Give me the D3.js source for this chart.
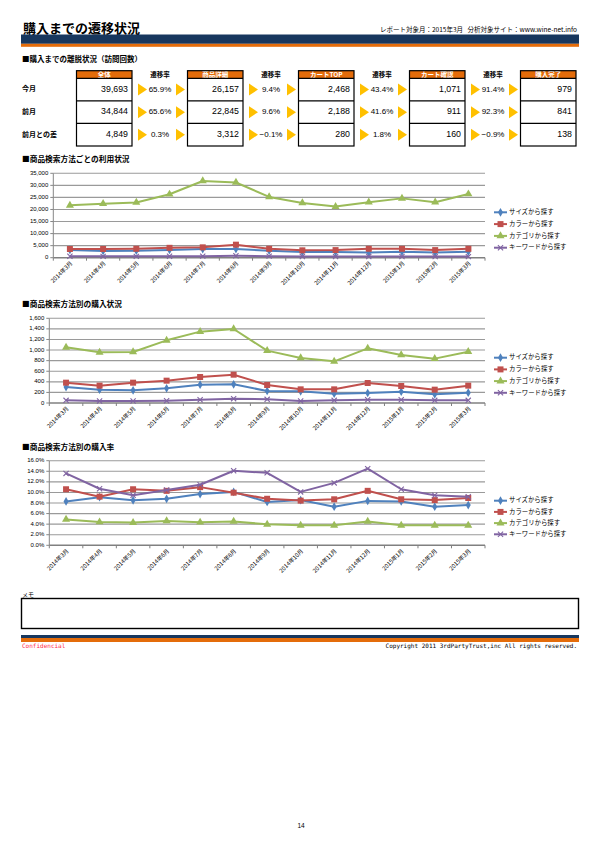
<!DOCTYPE html>
<html>
<head>
<meta charset="utf-8">
<script src="https://cdn.jsdelivr.net/npm/d3@7"></script>
<style>
  body { margin: 0; background: #fff; }
</style>
</head>
<body>
<script>
// Page size
const width = 601;
const height = 848;

// Funnel table data
const stages = ["全体", "商品詳細", "カートTOP", "カート確認", "購入完了"];
const rowLabels = ["今月", "前月", "前月との差"];
const visitsThisMonth = [39693, 26157, 2468, 1071, 979];
const visitsLastMonth = [34844, 22845, 2188, 911, 841];
const visitsDiff = [4849, 3312, 280, 160, 138];
const rateThisMonth = [65.9, 9.4, 43.4, 91.4];
const rateLastMonth = [65.6, 9.6, 41.6, 92.3];
const rateDiff = [0.3, -0.1, 1.8, -0.9];

// Chart data
const months = ["2014年3月", "2014年4月", "2014年5月", "2014年6月", "2014年7月", "2014年8月",
  "2014年9月", "2014年10月", "2014年11月", "2014年12月", "2015年1月", "2015年2月", "2015年3月"];
const seriesNames = ["サイズから探す", "カラーから探す", "カテゴリから探す", "キーワードから探す"];

// 利用状況 (visits per search method)
const useSize = [3200, 2800, 2900, 3200, 3600, 3600, 2900, 2400, 2350, 2200, 2500, 2200, 2500];
const useColor = [3600, 3600, 3700, 4100, 4300, 5400, 3700, 3050, 3150, 3700, 3700, 3150, 3700];
const useCategory = [21700, 22400, 22900, 26300, 31800, 31200, 25200, 22700, 21200, 23000, 24600, 23000, 26400];
const useKeyword = [600, 550, 550, 600, 650, 800, 650, 500, 450, 500, 500, 450, 450];

// 購入状況 (purchases per search method)
const buySize = [302, 252, 239, 277, 346, 353, 227, 220, 176, 189, 214, 164, 195];
const buyColor = [384, 328, 384, 422, 491, 535, 340, 258, 258, 378, 321, 252, 328];
const buyCategory = [1052, 957, 964, 1184, 1348, 1398, 989, 850, 787, 1033, 907, 838, 970];
const buyKeyword = [50, 38, 38, 44, 63, 82, 69, 38, 50, 63, 63, 50, 50];

// 購入率 (conversion rate, %)
const cvrSize = [8.3, 9.1, 8.5, 8.8, 9.7, 10.1, 8.2, 8.55, 7.3, 8.4, 8.3, 7.3, 7.6];
const cvrColor = [10.6, 9.2, 10.6, 10.3, 11.0, 9.95, 8.8, 8.45, 8.7, 10.3, 8.7, 8.55, 8.95];
const cvrCategory = [4.9, 4.4, 4.3, 4.6, 4.35, 4.5, 3.97, 3.78, 3.78, 4.5, 3.78, 3.78, 3.78];
const cvrKeyword = [13.6, 10.7, 9.45, 10.46, 11.46, 14.1, 13.7, 10.1, 11.8, 14.5, 10.6, 9.45, 9.2];

const navy = "#17375E";
const orange = "#E46C0A";
const colors = ["#4F81BD", "#C0504D", "#9BBB59", "#8064A2"];
const markers = ["diamond", "square", "triangle", "cross"];
const JP = "'Noto Sans CJK JP', sans-serif";
const SANS = "'Liberation Sans', Arial, sans-serif";
const MONO = "'DejaVu Sans Mono', 'Liberation Mono', monospace";

const svg = d3.select("body")
  .append("svg")
  .attr("width", width)
  .attr("height", height)
  .attr("font-family", JP);

svg.append("rect").attr("width", width).attr("height", height).attr("fill", "#fff");

// ---------- header ----------
svg.append("text")
  .attr("x", 23).attr("y", 33)
  .attr("font-size", 13).attr("font-weight", "bold")
  .text("購入までの遷移状況");

svg.append("text")
  .attr("x", 463).attr("y", 32)
  .attr("text-anchor", "end").attr("font-size", 6.5)
  .text("レポート対象月：2015年3月");

svg.append("text")
  .attr("x", 577).attr("y", 32)
  .attr("text-anchor", "end").attr("font-size", 6.5)
  .text("分析対象サイト：www.wine-net.info");

svg.append("rect").attr("x", 21).attr("y", 34.5).attr("width", 558).attr("height", 9.3).attr("fill", navy);
svg.append("rect").attr("x", 21).attr("y", 43.8).attr("width", 558).attr("height", 3).attr("fill", orange);

// ---------- funnel table ----------
svg.append("text")
  .attr("x", 22).attr("y", 61.5)
  .attr("font-size", 7.5).attr("font-weight", "bold")
  .text("■購入までの離脱状況（訪問回数）");

const colX = d3.scaleLinear().domain([0, stages.length - 1]).range([76.5, 520.5]);
const boxW = 55.5;
const headTop = 70.7;
const headBottom = 78.3;
const rowY = d3.scaleLinear().domain([0, 3]).range([headBottom, 146]);
const rowH = rowY(1) - rowY(0);

const tableRows = [visitsThisMonth, visitsLastMonth, visitsDiff];
const rateRows = [rateThisMonth, rateLastMonth, rateDiff];
const fmtInt = d3.format(",");
const fmtRate = d => d3.format(".1f")(d) + "%";

const table = svg.append("g");

// row labels
table.selectAll(".rowlabel")
  .data(rowLabels)
  .join("text")
  .attr("x", 22)
  .attr("y", (d, i) => rowY(i) + rowH / 2)
  .attr("dominant-baseline", "middle")
  .attr("font-size", 7).attr("font-weight", "bold")
  .text(d => d);

// stage boxes
const boxes = table.selectAll(".stage")
  .data(stages)
  .join("g")
  .attr("transform", (d, i) => `translate(${colX(i)},0)`);

boxes.append("rect")
  .attr("y", headTop).attr("width", boxW).attr("height", headBottom - headTop)
  .attr("fill", orange);

boxes.append("text")
  .attr("x", boxW / 2).attr("y", (headTop + headBottom) / 2 + 0.3)
  .attr("text-anchor", "middle").attr("dominant-baseline", "middle")
  .attr("font-size", 6.5).attr("font-weight", "bold").attr("fill", "#fff")
  .text(d => d);

boxes.append("rect")
  .attr("y", headTop).attr("width", boxW).attr("height", rowY(3) - headTop)
  .attr("fill", "none").attr("stroke", "#000").attr("stroke-width", 1.2);

boxes.selectAll(".sep")
  .data([0, 1, 2])
  .join("line")
  .attr("x1", 0).attr("x2", boxW)
  .attr("y1", i => rowY(i)).attr("y2", i => rowY(i))
  .attr("stroke", "#000").attr("stroke-width", 1.2);

boxes.selectAll(".val")
  .data((d, i) => tableRows.map(r => r[i]))
  .join("text")
  .attr("x", boxW - 4)
  .attr("y", (d, r) => rowY(r) + rowH / 2)
  .attr("text-anchor", "end").attr("dominant-baseline", "middle")
  .attr("font-family", SANS)
  .attr("font-size", 8.8)
  .text(d => fmtInt(d));

// rate columns with arrows
const rates = table.selectAll(".rate")
  .data(rateThisMonth)
  .join("g")
  .attr("transform", (d, i) => `translate(${colX(i)},0)`);

rates.append("text")
  .attr("x", 83.5).attr("y", (headTop + headBottom) / 2 + 0.3)
  .attr("text-anchor", "middle").attr("dominant-baseline", "middle")
  .attr("font-size", 6.5).attr("font-weight", "bold")
  .text("遷移率");

rates.each(function(d, i) {
  const g = d3.select(this);
  rateRows.forEach((row, r) => {
    const cy = rowY(r) + rowH / 2;
    [61.5, 99.5].forEach(ax => {
      g.append("path")
        .attr("d", `M${ax},${cy - 6}L${ax + 9},${cy}L${ax},${cy + 6}Z`)
        .attr("fill", "#FFC000");
    });
    g.append("text")
      .attr("x", 83.5).attr("y", cy)
      .attr("text-anchor", "middle").attr("dominant-baseline", "middle")
      .attr("font-family", SANS)
      .attr("font-size", 8)
      .text(fmtRate(row[i]));
  });
});

// ---------- line charts ----------
function drawMarker(g, type, color) {
  if (type === "cross") {
    g.append("path")
      .attr("d", "M-2.6,-2.6L2.6,2.6M-2.6,2.6L2.6,-2.6")
      .attr("stroke", color).attr("stroke-width", 1.1).attr("fill", "none");
  } else {
    const sym = { diamond: d3.symbolDiamond, square: d3.symbolSquare, triangle: d3.symbolTriangle }[type];
    const size = { diamond: 22, square: 36, triangle: 28 }[type];
    g.append("path")
      .attr("d", d3.symbol(sym, size)())
      .attr("fill", color);
  }
}

function drawChart(cfg) {
  const g = svg.append("g");

  g.append("text")
    .attr("x", 22).attr("y", cfg.titleY)
    .attr("font-size", 7.7).attr("font-weight", "bold")
    .text(cfg.title);

  const x = d3.scaleBand().domain(months).range([cfg.left, cfg.right]);
  const y = d3.scaleLinear().domain([0, cfg.max]).range([cfg.bottom, cfg.top]);
  const ticks = d3.range(0, cfg.max + cfg.step / 2, cfg.step);

  // gridlines
  g.selectAll(".grid")
    .data(ticks.slice(1))
    .join("line")
    .attr("x1", cfg.left).attr("x2", cfg.right)
    .attr("y1", d => y(d)).attr("y2", d => y(d))
    .attr("stroke", "#9a9a9a").attr("stroke-width", 1.1);

  // y axis
  g.append("line")
    .attr("x1", cfg.left).attr("x2", cfg.left)
    .attr("y1", cfg.top).attr("y2", cfg.bottom)
    .attr("stroke", "#868686").attr("stroke-width", 1);

  g.selectAll(".ytick")
    .data(ticks)
    .join("line")
    .attr("x1", cfg.left - 3).attr("x2", cfg.left)
    .attr("y1", d => y(d)).attr("y2", d => y(d))
    .attr("stroke", "#868686");

  g.selectAll(".ylabel")
    .data(ticks)
    .join("text")
    .attr("x", cfg.left - 5)
    .attr("y", d => y(d))
    .attr("text-anchor", "end").attr("dominant-baseline", "middle")
    .attr("font-family", SANS)
    .attr("font-size", 6)
    .text(cfg.format);

  // x axis
  g.append("line")
    .attr("x1", cfg.left).attr("x2", cfg.right)
    .attr("y1", cfg.bottom).attr("y2", cfg.bottom)
    .attr("stroke", "#808080").attr("stroke-width", 1.6);

  g.selectAll(".xtick")
    .data(months.concat(["end"]))
    .join("line")
    .attr("x1", (d, i) => cfg.left + i * x.step())
    .attr("x2", (d, i) => cfg.left + i * x.step())
    .attr("y1", cfg.bottom).attr("y2", cfg.bottom + 3)
    .attr("stroke", "#808080");

  g.selectAll(".xlabel")
    .data(months)
    .join("text")
    .attr("text-anchor", "end")
    .attr("transform", d => `translate(${x(d) + x.bandwidth() / 2 + 3},${cfg.bottom + 6}) rotate(-45)`)
    .attr("font-size", 5.8)
    .text(d => d);

  const line = d3.line()
    .x((d, i) => x(months[i]) + x.bandwidth() / 2)
    .y(d => y(d));

  cfg.series.forEach((vals, s) => {
    g.append("path")
      .attr("d", line(vals))
      .attr("fill", "none")
      .attr("stroke", colors[s])
      .attr("stroke-width", 2)
      .attr("stroke-linejoin", "round");

    vals.forEach((v, i) => {
      const m = g.append("g")
        .attr("transform", `translate(${x(months[i]) + x.bandwidth() / 2},${y(v)})`);
      drawMarker(m, markers[s], colors[s]);
    });
  });

  // legend
  const legend = g.selectAll(".legend")
    .data(seriesNames)
    .join("g")
    .attr("transform", (d, i) => `translate(494,${cfg.legendY + i * cfg.legendStep})`);

  legend.append("line")
    .attr("x1", 0).attr("x2", 13)
    .attr("stroke", (d, i) => colors[i]).attr("stroke-width", 2);

  legend.each(function(d, i) {
    const m = d3.select(this).append("g").attr("transform", "translate(6.5,0)");
    drawMarker(m, markers[i], colors[i]);
  });

  legend.append("text")
    .attr("x", 15).attr("y", 0)
    .attr("dominant-baseline", "middle")
    .attr("font-size", 6.4)
    .text(d => d);
}

drawChart({
  title: "■商品検索方法ごとの利用状況", titleY: 162,
  left: 53.3, right: 485, top: 173.3, bottom: 257.7,
  max: 35000, step: 5000, format: d3.format(","),
  series: [useSize, useColor, useCategory, useKeyword],
  legendY: 212.3, legendStep: 11.8
});

drawChart({
  title: "■商品検索方法別の購入状況", titleY: 307,
  left: 49.3, right: 485, top: 318.3, bottom: 403,
  max: 1600, step: 200, format: d3.format(","),
  series: [buySize, buyColor, buyCategory, buyKeyword],
  legendY: 357.7, legendStep: 11.7
});

drawChart({
  title: "■商品検索方法別の購入率", titleY: 449.5,
  left: 49.3, right: 485, top: 460.7, bottom: 545.3,
  max: 16, step: 2, format: d => d3.format(".1f")(d) + "%",
  series: [cvrSize, cvrColor, cvrCategory, cvrKeyword],
  legendY: 500.7, legendStep: 11.2
});

// ---------- memo & footer ----------
svg.append("text")
  .attr("x", 22).attr("y", 596.5)
  .attr("font-size", 6)
  .text("メモ");

svg.append("rect")
  .attr("x", 21.5).attr("y", 598.5).attr("width", 557).attr("height", 30)
  .attr("fill", "none").attr("stroke", "#000").attr("stroke-width", 1.4);

svg.append("rect").attr("x", 21).attr("y", 635).attr("width", 558).attr("height", 3).attr("fill", navy);
svg.append("rect").attr("x", 21).attr("y", 638).attr("width", 558).attr("height", 4).attr("fill", orange);

svg.append("text")
  .attr("x", 22).attr("y", 648)
  .attr("font-family", MONO)
  .attr("font-size", 6).attr("fill", "#ff2a4a")
  .text("Confidencial");

svg.append("text")
  .attr("x", 577).attr("y", 648)
  .attr("text-anchor", "end")
  .attr("font-family", MONO)
  .attr("font-size", 6)
  .text("Copyright 2011 3rdPartyTrust,inc All rights reserved.");

svg.append("text")
  .attr("x", 301).attr("y", 828)
  .attr("text-anchor", "middle")
  .attr("font-family", SANS)
  .attr("font-size", 6.5)
  .text("14");
</script>
</body>
</html>
